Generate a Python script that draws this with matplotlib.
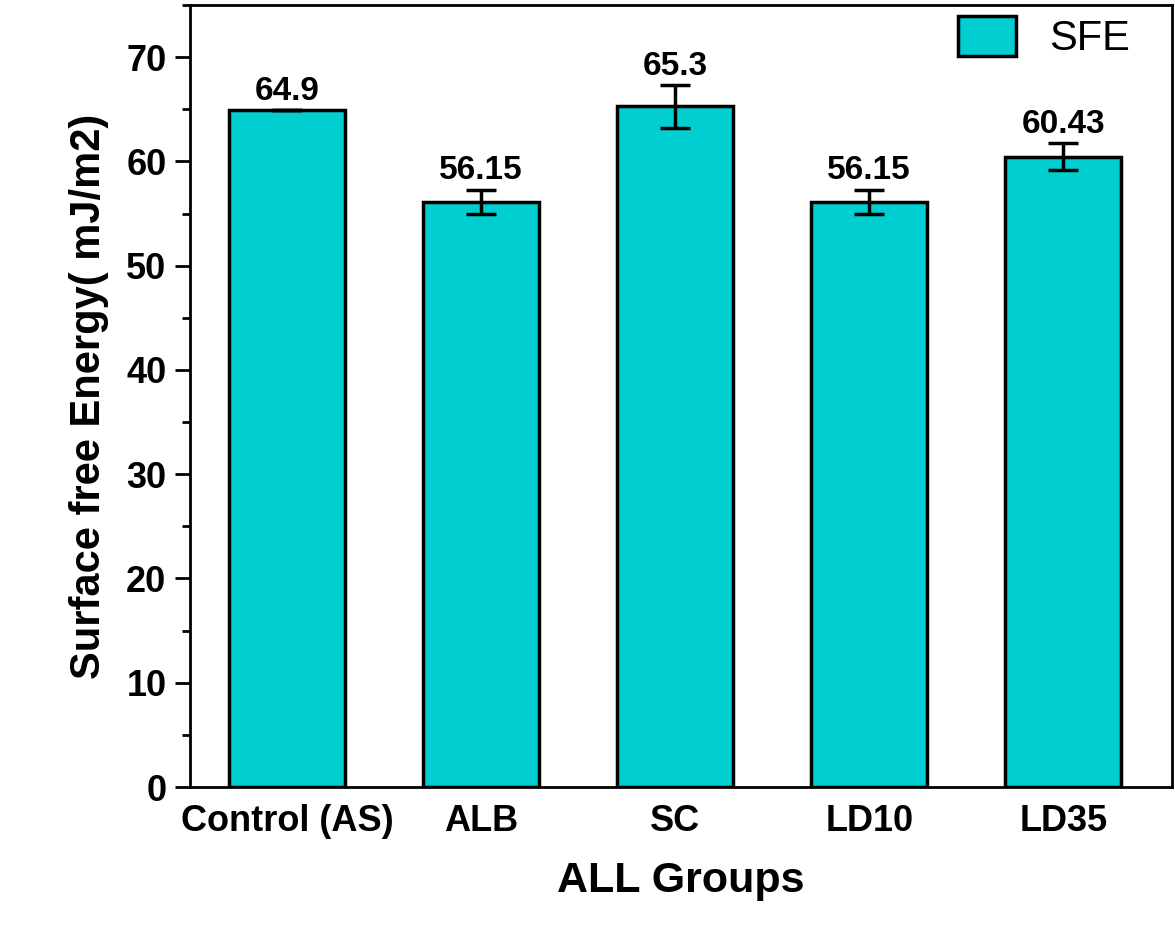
import matplotlib
matplotlib.use("Agg")
import matplotlib.pyplot as plt
from matplotlib.ticker import MultipleLocator

categories = ["Control (AS)", "ALB", "SC", "LD10", "LD35"]
values = [64.9, 56.15, 65.3, 56.15, 60.43]
errors = [0.0, 1.15, 2.05, 1.15, 1.3]
labels = ["64.9", "56.15", "65.3", "56.15", "60.43"]

plt.rcParams['font.family'] = ['Liberation Sans', 'DejaVu Sans']

fig = plt.figure(figsize=(11.75, 9.42), dpi=100)
ax = fig.add_axes([0.1617, 0.1645, 0.8357, 0.8302])

x = range(len(categories))
ax.bar(x, values, width=0.6, color="#00CED1", edgecolor="black", linewidth=2.5,
       yerr=errors, error_kw=dict(ecolor="black", elinewidth=2.5, capsize=11, capthick=2.5),
       label="SFE", zorder=2)

for xi, v, e, t in zip(x, values, errors, labels):
    ax.text(xi, v + e + 0.3, t, ha="center", va="bottom", fontsize=24, fontweight="bold")

ax.set_xlim(-0.5, 4.56)
ax.set_ylim(0, 75)
ax.set_xticks(list(x))
ax.set_xticklabels(categories, fontsize=26, fontweight="bold")
ax.yaxis.set_major_locator(MultipleLocator(10))
ax.yaxis.set_minor_locator(MultipleLocator(5))
for lab in ax.get_yticklabels():
    lab.set_fontweight("bold")
ax.tick_params(axis="y", which="major", labelsize=26, length=11, width=2, direction="out", pad=6)
ax.tick_params(axis="y", which="minor", length=6, width=2, direction="out")
ax.tick_params(axis="x", length=0, pad=12)
for s in ax.spines.values():
    s.set_linewidth(2)

ax.set_xlabel("ALL Groups", fontsize=31, fontweight="bold", labelpad=16)
ax.set_ylabel("Surface free Energy( mJ/m2)", fontsize=30, fontweight="bold", labelpad=12)

leg = ax.legend(loc="upper right", bbox_to_anchor=(0.9745, 1.0077), frameon=False, fontsize=30,
                handlelength=1.4, handleheight=1.1,
                borderaxespad=0.2, handletextpad=0.8, borderpad=0.2)
for h in leg.legend_handles:
    h.set_linewidth(2.5)

fig.savefig("out.png", dpi=100)
